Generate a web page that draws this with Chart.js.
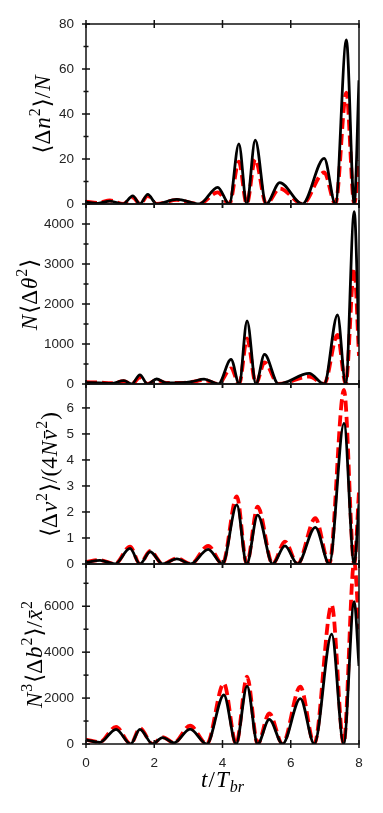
<!DOCTYPE html>
<html><head><meta charset="utf-8">
<script src="https://cdn.jsdelivr.net/npm/chart.js@4.4.1/dist/chart.umd.min.js"></script>
<style>
html,body{margin:0;padding:0;background:#fff;}
#wrap{position:relative;width:383px;height:813px;overflow:hidden;}
#wrap canvas{position:absolute;left:0;top:0;}
</style></head><body>
<div id="wrap">
<canvas id="c1" width="383" height="813"></canvas>
<canvas id="c2" width="383" height="813"></canvas>
<canvas id="c3" width="383" height="813"></canvas>
<canvas id="c4" width="383" height="813"></canvas>
</div>
<script>
// ---- shared x axis ----
const xTicks = [0, 2, 4, 6, 8];

// ---- panel 1: <Δn²>/N ----
const t1 = [0, 0.35, 0.70, 1.09, 1.37, 1.58, 1.81, 2.07, 2.66, 3.32, 3.86, 4.20, 4.48, 4.71, 4.96, 5.28, 5.68, 6.34, 6.98, 7.31, 7.63, 7.86, 8.0];
const black1 = [0.8, 0.3, 1.3, 0, 3.6, 0, 4.3, 0, 2.1, 0, 7.4, 0, 26.7, 0, 28.4, 0, 9.5, 0, 20.3, 0, 72.9, 0, 55];
const red1 = [1.0, 0.5, 1.6, 0, 3.0, 0, 3.6, 0, 1.8, 0, 5.2, 0, 18.8, 0, 19.9, 0, 6.9, 0, 14.0, 0, 49.5, 0, 19.5];
const yMajor1 = [0, 20, 40, 60, 80];
const yMinor1 = [10, 30, 50, 70];

// ---- panel 2: N<Δθ²> ----
const t2 = [0, 0.40, 0.75, 1.11, 1.34, 1.58, 1.80, 2.07, 2.35, 2.80, 3.10, 3.46, 3.88, 4.25, 4.49, 4.72, 4.98, 5.23, 5.64, 6.54, 6.98, 7.37, 7.61, 7.86, 8.0];
const black2 = [35, 30, 15, 85, 0, 230, 0, 125, 30, 35, 60, 120, 0, 615, 0, 1580, 0, 740, 0, 265, 0, 1725, 0, 4310, 1000];
const red2 = [45, 35, 20, 70, 0, 165, 0, 100, 25, 30, 50, 100, 0, 390, 0, 1140, 0, 540, 0, 185, 0, 1225, 0, 2890, 700];
const yMajor2 = [0, 1000, 2000, 3000, 4000];
const yMinor2 = [500, 1500, 2500, 3500];

// ---- panel 3: <Δv²>/(4N v̄²) ----
const t3 = [0, 0.41, 0.85, 1.29, 1.58, 1.88, 2.25, 2.66, 3.07, 3.58, 4.00, 4.42, 4.71, 5.03, 5.47, 5.83, 6.20, 6.72, 7.13, 7.56, 7.86, 8.0];
const black3 = [0.06, 0.14, 0, 0.60, 0, 0.47, 0, 0.20, 0, 0.56, 0, 2.27, 0, 1.88, 0, 0.70, 0, 1.41, 0, 5.41, 0, 2.3];
const red3 = [0.08, 0.15, 0, 0.67, 0, 0.50, 0, 0.22, 0, 0.70, 0, 2.60, 0, 2.20, 0, 0.86, 0, 1.76, 0, 6.69, 0, 2.8];
const yMajor3 = [0, 1, 2, 3, 4, 5, 6];
const yMinor3 = [];

// ---- panel 4: N³<Δb²>/x̄² ----
const t4 = [0, 0.40, 0.88, 1.31, 1.58, 1.95, 2.24, 2.58, 3.05, 3.54, 4.04, 4.40, 4.72, 5.03, 5.37, 5.76, 6.28, 6.69, 7.20, 7.55, 7.86, 8.0];
const black4 = [175, 70, 640, 0, 640, 0, 280, 50, 650, 0, 2135, 0, 2525, 0, 1075, 0, 1975, 0, 4790, 0, 6200, 3400];
const red4 = [190, 80, 750, 0, 690, 0, 300, 60, 800, 0, 2640, 0, 2930, 0, 1335, 0, 2500, 0, 6055, 0, 7950, 5000];
const yMajor4 = [0, 2000, 4000, 6000];
const yMinor4 = [1000, 3000, 5000, 7000];

// ---- titles (rich text segments) ----
const yTitle1 = [['⟨Δ','r'],['n','i'],['2','sup'],['⟩/','r'],['N','i']];
const yTitle2 = [['N','i'],['⟨Δ','r'],['θ','i'],['2','sup'],['⟩','r']];
const yTitle3 = [['⟨Δ','r'],['v','i'],['2','sup'],['⟩/(4','r'],['N','i'],['v̄','i'],['2','sup'],[')','r']];
const yTitle4 = [['N','i'],['3','sup'],['⟨Δ','r'],['b','i'],['2','sup'],['⟩/','r'],['x̄','i'],['2','sup']];
const xTitle = [['t','i'],['/','r'],['T','i'],['br','sub']];

const W = 383, H = 813, PLOT_LEFT = 86, PLOT_RIGHT = 359, XAXIS_H = 40;
const SERIF = '"Liberation Serif", "DejaVu Serif", serif';
const TITLE_SIZE = 23;

const panels = [
  {id:'c1', t:t1, black:black1, red:red1, max:80,   major:yMajor1, minor:yMinor1, top:24,  bottom:204, title:yTitle1, titleX:50, showX:false},
  {id:'c2', t:t2, black:black2, red:red2, max:4500, major:yMajor2, minor:yMinor2, top:204, bottom:384, title:yTitle2, titleX:37, showX:false},
  {id:'c3', t:t3, black:black3, red:red3, max:6.92, major:yMajor3, minor:yMinor3, top:384, bottom:564, title:yTitle3, titleX:57, showX:false},
  {id:'c4', t:t4, black:black4, red:red4, max:7840, major:yMajor4, minor:yMinor4, top:564, bottom:744, title:yTitle4, titleX:42, showX:true}
];

function segFont(style, size) {
  if (style === 'i') return 'italic ' + size + 'px ' + SERIF;
  if (style === 'sup') return Math.round(size * 0.7) + 'px ' + SERIF;
  if (style === 'sub') return 'italic ' + Math.round(size * 0.7) + 'px ' + SERIF;
  return size + 'px ' + SERIF;
}
function segShift(style, size) {
  if (style === 'sup') return -size * 0.42;
  if (style === 'sub') return size * 0.22;
  return 0;
}
function drawRich(ctx, segs, size) {
  let total = 0;
  const widths = segs.map(s => { ctx.font = segFont(s[1], size); const w = ctx.measureText(s[0]).width + 1; total += w; return w; });
  let x = -total / 2;
  ctx.textBaseline = 'alphabetic';
  ctx.textAlign = 'left';
  segs.forEach((s, i) => {
    ctx.font = segFont(s[1], size);
    ctx.fillText(s[0], x, segShift(s[1], size));
    x += widths[i];
  });
}

function framePlugin(p) {
  return {
    id: 'frame_' + p.id,
    afterDraw(chart) {
      const ctx = chart.ctx, ca = chart.chartArea, ys = chart.scales.y, xs = chart.scales.x;
      ctx.save();
      ctx.strokeStyle = '#111';
      ctx.lineWidth = 1.5;
      ctx.strokeRect(ca.left, ca.top, ca.right - ca.left, ca.bottom - ca.top);
      const seg = (x1, y1, x2, y2) => { ctx.beginPath(); ctx.moveTo(x1, y1); ctx.lineTo(x2, y2); ctx.stroke(); };
      p.major.forEach(v => { const y = ys.getPixelForValue(v); seg(ca.left - 4, y, ca.left + 4, y); });
      p.minor.forEach(v => { const y = ys.getPixelForValue(v); seg(ca.left - 2.5, y, ca.left + 2.5, y); });
      xTicks.forEach(v => {
        const x = xs.getPixelForValue(v);
        seg(x, ca.top - 4, x, ca.top + 4);
        seg(x, ca.bottom - 4, x, ca.bottom + 4);
      });
      ctx.fillStyle = '#000';
      ctx.save();
      ctx.translate(p.titleX, (ca.top + ca.bottom) / 2);
      ctx.rotate(-Math.PI / 2);
      drawRich(ctx, p.title, TITLE_SIZE);
      ctx.restore();
      if (p.showX) {
        ctx.save();
        ctx.translate((ca.left + ca.right) / 2 + 0.5, ca.bottom + 43);
        drawRich(ctx, xTitle, TITLE_SIZE);
        ctx.restore();
      }
      ctx.restore();
    }
  };
}

const tickFont = {family: '"Liberation Sans", Arial, sans-serif', size: 13.5};
const plainLabel = v => String(v);

panels.forEach(p => {
  new Chart(document.getElementById(p.id), {
    type: 'line',
    data: {
      datasets: [
        {data: p.t.map((x, i) => ({x: x, y: p.black[i]})), borderColor: '#000', borderWidth: 2.8,
         pointRadius: 0, cubicInterpolationMode: 'monotone', fill: false},
        {data: p.t.map((x, i) => ({x: x, y: p.red[i]})), borderColor: '#ff0000', borderWidth: 3.8,
         borderDash: [11, 5], pointRadius: 0, cubicInterpolationMode: 'monotone', fill: false}
      ]
    },
    options: {
      responsive: false, animation: false, devicePixelRatio: 1,
      layout: {padding: {left: 0, right: W - PLOT_RIGHT, top: p.top,
                         bottom: p.showX ? H - p.bottom - XAXIS_H : H - p.bottom}},
      plugins: {legend: {display: false}, tooltip: {enabled: false}},
      scales: {
        x: {type: 'linear', min: 0, max: 8, display: p.showX,
            afterBuildTicks: s => { s.ticks = xTicks.map(v => ({value: v})); },
            afterFit: s => { if (p.showX) s.height = XAXIS_H; },
            grid: {display: false, drawTicks: false}, border: {display: false},
            ticks: {padding: 11, color: '#222', font: tickFont, maxRotation: 0, autoSkip: false, callback: plainLabel}},
        y: {type: 'linear', min: 0, max: p.max,
            afterBuildTicks: s => { s.ticks = p.major.map(v => ({value: v})); },
            afterFit: s => { s.width = PLOT_LEFT; },
            grid: {display: false, drawTicks: false}, border: {display: false},
            ticks: {padding: 12, color: '#222', font: tickFont, autoSkip: false, callback: plainLabel}}
      }
    },
    plugins: [framePlugin(p)]
  });
});
</script>
</body></html>
